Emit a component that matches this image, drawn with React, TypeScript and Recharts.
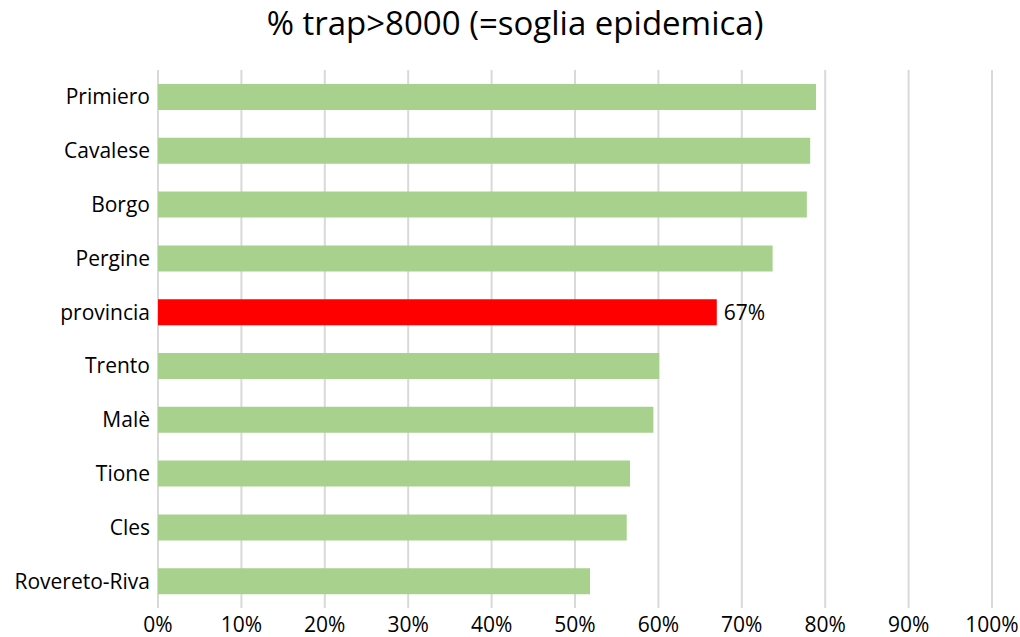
import React from 'react';
import { BarChart, Bar, XAxis, YAxis, CartesianGrid, Cell, LabelList } from 'recharts';

const categories = ['Primiero', 'Cavalese', 'Borgo', 'Pergine', 'provincia', 'Trento', 'Malè', 'Tione', 'Cles', 'Rovereto-Riva'];
const values = [0.789, 0.782, 0.778, 0.737, 0.67, 0.601, 0.594, 0.566, 0.562, 0.518];
const highlight = 'provincia';
const xTicks = [0, 0.1, 0.2, 0.3, 0.4, 0.5, 0.6, 0.7, 0.8, 0.9, 1];
const title = '% trap>8000 (=soglia epidemica)';

const data = categories.map((c, i) => ({ name: c, value: values[i] }));

const FONT = '"Open Sans", sans-serif';

const pct = (v: number) => `${Math.round(v * 100)}%`;

export default function App() {
  return (
    <div style={{ position: 'absolute', left: 0, top: 0, width: 1020, height: 637, background: '#fff', fontFamily: FONT }}>
      <div style={{ position: 'absolute', left: 0, top: 0, width: 1030, textAlign: 'center', fontSize: 33, color: '#000' }}>
        {title}
      </div>
      <BarChart
        width={1020}
        height={637}
        data={data}
        layout="vertical"
        margin={{ top: 70, right: 28, bottom: 0, left: 8 }}
        barSize={26}
      >
        <CartesianGrid horizontal={false} stroke="#D9D9D9" strokeWidth={2} />
        <XAxis
          type="number"
          domain={[0, 1]}
          ticks={xTicks}
          tickFormatter={pct}
          axisLine={false}
          tickLine={false}
          height={29}
          tickMargin={3}
          tick={{ fontSize: 21, fill: '#000', fontFamily: FONT }}
          interval={0}
        />
        <YAxis
          type="category"
          dataKey="name"
          width={150}
          axisLine={false}
          tickLine={false}
          tickSize={0}
          tickMargin={8}
          tick={{ fontSize: 21, fill: '#000', fontFamily: FONT }}
          interval={0}
        />
        <Bar dataKey="value" isAnimationActive={false}>
          {data.map((d) => (
            <Cell key={d.name} fill={d.name === highlight ? '#FF0000' : '#A9D18E'} />
          ))}
          <LabelList
            dataKey="value"
            content={(p: any) => {
              if (data[p.index]?.name !== highlight) return null;
              return (
                <text x={p.x + p.width + 7} y={p.y + p.height / 2} dominantBaseline="central" fontSize={21} fill="#000" fontFamily={FONT}>
                  {pct(p.value)}
                </text>
              );
            }}
          />
        </Bar>
      </BarChart>
    </div>
  );
}
